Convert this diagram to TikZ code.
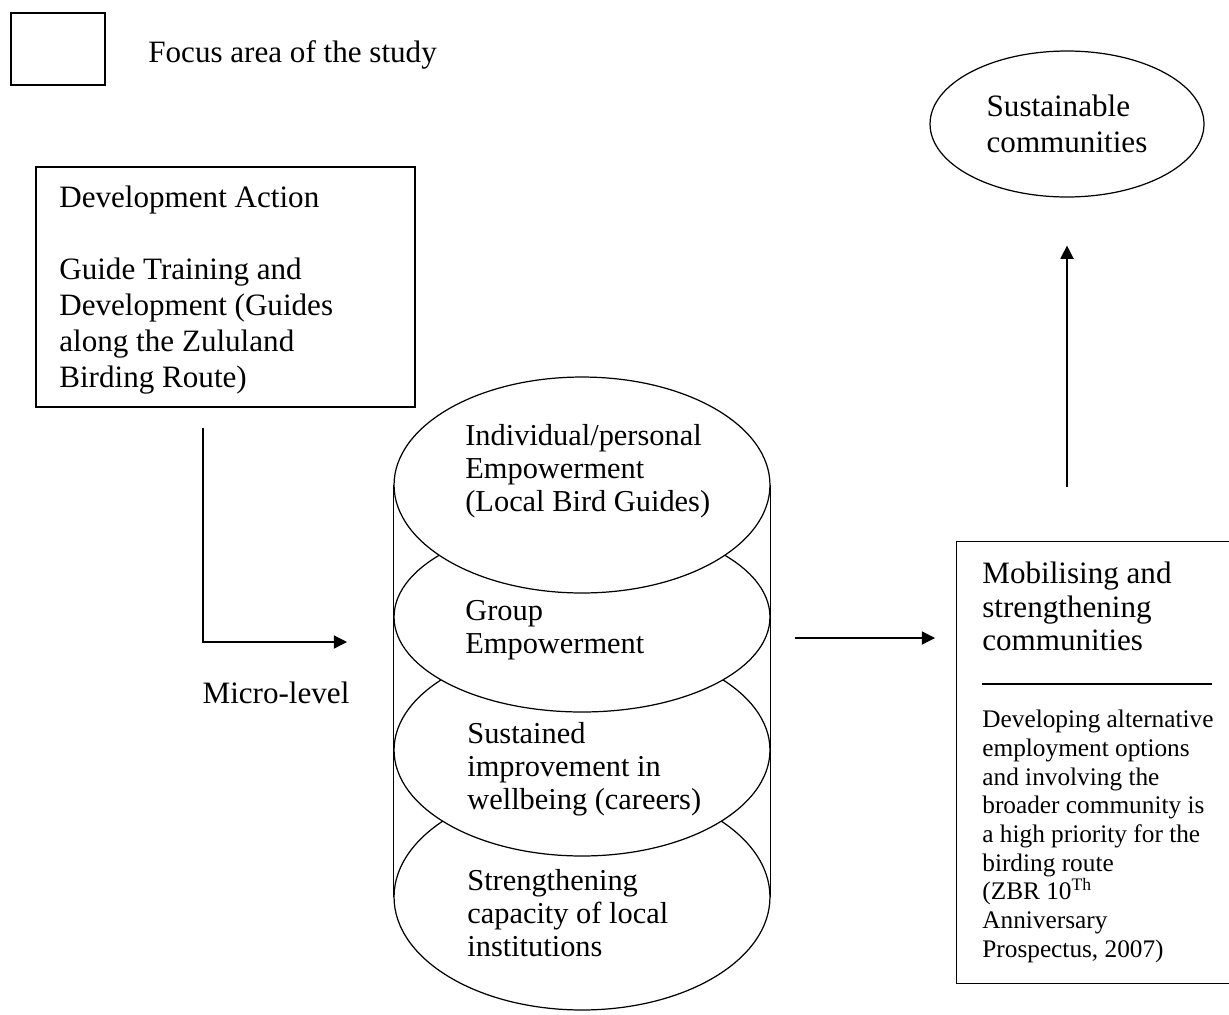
\documentclass[tikz,border=0pt]{standalone}
\usepackage{fontspec}
\setmainfont{Liberation Serif}
\usetikzlibrary{shapes.geometric, arrows.meta}

\begin{document}
\begin{tikzpicture}[x=0.02cm, y=-0.02cm,
    txt/.style={font=\fontsize{17.7}{20.4}\selectfont, align=left, inner sep=0pt},
    small/.style={font=\fontsize{14.4}{16.3}\selectfont, align=left, inner sep=0pt},
    box/.style={draw, line width=0.7pt, inner sep=0pt},
    layer/.style={ellipse, draw, line width=0.7pt, fill=white,
                  minimum width=7.52cm, inner sep=0pt},
    layertxt/.style={txt, font=\fontsize{17.3}{18.8}\selectfont, anchor=west},
    arr/.style={-{Triangle[length=7.5pt, width=7.5pt]}, line width=0.7pt}
  ]
  \useasboundingbox (0,0) rectangle (1229,1014);

  % legend
  \node[box, minimum width=1.88cm, minimum height=1.44cm] (key) at (58,49) {};
  \node[txt, anchor=west] (keytxt) at (148,55) {Focus area of the study};

  % development action
  \node[box, minimum width=7.58cm, minimum height=4.8cm] (dev) at (225.5,287) {};
  \node[txt, anchor=north west] (devtxt) at (59,186)
        {Development Action\\[20.4pt]Guide Training and\\Development (Guides\\along the Zululand\\Birding Route)};

  % micro level
  \coordinate (elbowtop) at (203,428);
  \coordinate (elbowend) at (347,642);
  \draw[arr] (elbowtop) |- (elbowend);
  \node[txt] (micro) at (276,693) {Micro-level};

  % empowerment cylinder
  \node[layer, minimum height=4.52cm] (l4) at (582,897) {};
  \node[layer, minimum height=4.24cm] (l3) at (582,750) {};
  \node[layer, minimum height=3.8cm]  (l2) at (582,617) {};
  \node[layer, minimum height=4.32cm] (l1) at (582,485) {};
  \draw[line width=0.7pt] (l1.west) -- (l4.west) (l1.east) -- (l4.east);

  \node[layertxt] (t1) at (465,471) {Individual/personal\\Empowerment\\(Local Bird Guides)};
  \node[layertxt] (t2) at (465,630) {Group\\Empowerment};
  \node[layertxt] (t3) at (467,769) {Sustained\\improvement in\\wellbeing (careers)};
  \node[layertxt] (t4) at (467,913) {Strengthening\\capacity of local\\institutions};

  % mobilising box
  \node[minimum width=5.44cm, minimum height=8.82cm, inner sep=0pt] (mob) at (1093,762.5) {};
  \draw[line width=0.7pt] (mob.north east) -- (mob.north west) -- (mob.south west) -- (mob.south east);
  \node[txt, font=\fontsize{17.7}{19}\selectfont, anchor=north west] (mobhead) at (982,562)
        {Mobilising and\\strengthening\\communities};
  \draw[line width=0.7pt] (982,684) -- (1212,684);
  \node[small, anchor=north west] (mobtxt) at (982,710)
        {Developing alternative\\employment options\\and involving the\\broader community is\\a high priority for the\\birding route\\(ZBR 10\textsuperscript{Th}\\Anniversary\\Prospectus, 2007)};

  \coordinate (cylout) at (795,638);
  \coordinate (mobin) at (935,638);
  \draw[arr] (cylout) -- (mobin);

  % outcome
  \node[ellipse, draw, line width=0.7pt, minimum width=5.48cm, minimum height=2.92cm, txt]
        (sus) at (1067,124) {Sustainable\\communities};
  \draw[arr, shorten <=1.1cm, shorten >=0.96cm] (sus.south |- mob.north) -- (sus.south);
\end{tikzpicture}
\end{document}
